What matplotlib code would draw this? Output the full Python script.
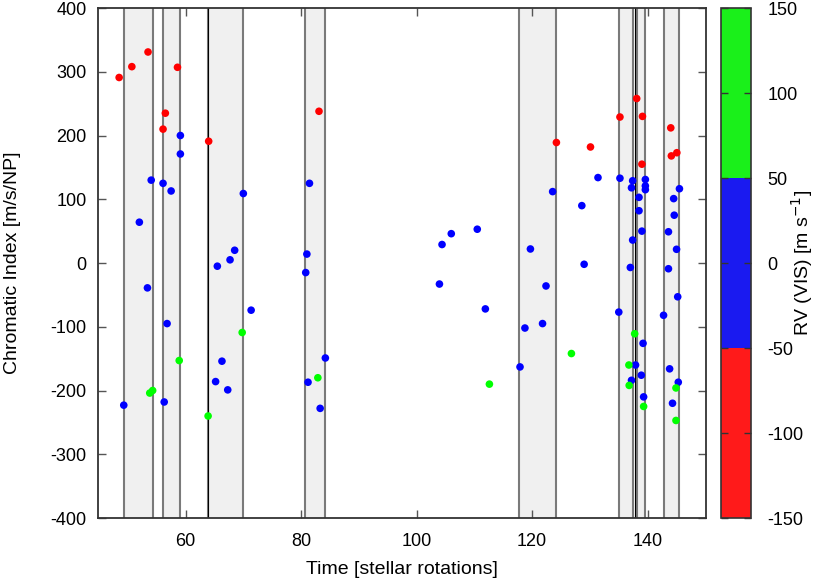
import matplotlib
matplotlib.use("Agg")
import matplotlib.pyplot as plt
from matplotlib.colors import ListedColormap, BoundaryNorm
import numpy as np

plt.rcParams['font.family'] = ['Liberation Sans', 'DejaVu Sans']
plt.rcParams['axes.unicode_minus'] = False

# ---- data ----
time_red = [48.5, 50.7, 53.5, 58.6, 56.5, 56.1, 64.0, 83.1, 124.2, 130.1,
            138.1, 135.2, 139.1, 144.0, 139.0, 144.1, 145.05]
ci_red = [291, 308, 331, 307, 235, 210, 191, 238, 189, 182,
          258, 229, 230, 212, 155, 168, 173]

time_blue = [59.1, 59.1, 54.05, 56.1, 57.5, 70.0, 52.0, 68.5, 67.7, 65.5,
             53.4, 71.35, 56.8, 66.3, 65.2, 67.3, 49.3, 56.3,
             81.45, 81.0, 80.8, 84.2, 81.2, 83.3,
             131.4, 123.55, 128.6, 106.0, 110.5, 104.4, 119.7, 129.0, 103.95,
             122.4, 111.9, 121.8, 118.75, 117.9,
             135.2, 137.4, 137.2, 139.6, 139.6, 139.6, 145.5, 138.5, 144.5,
             138.5, 144.6, 139.0, 143.6, 137.4, 145.0, 137.0, 143.6, 145.2,
             135.0, 142.75, 139.2, 137.9, 138.9, 143.8, 137.2, 145.3, 139.3,
             144.3]
ci_blue = [200, 171, 130, 125, 113, 109, 64, 20, 5, -5,
           -39, -74, -95, -154, -186, -199, -223, -218,
           125, 14, -15, -149, -187, -228,
           134, 112, 90, 46, 53, 29, 22, -2, -33,
           -36, -72, -95, -102, -163,
           133, 129, 118, 131, 121, 115, 116.5, 103, 101,
           82, 75, 50, 49, 36, 21.5, -7, -9, -53,
           -77, -82, -126, -160, -176, -166, -184, -187, -210,
           -220]

time_green = [69.8, 58.9, 53.8, 54.3, 63.9, 82.9, 126.8, 112.6,
              137.75, 136.75, 136.8, 144.9, 139.3, 144.9]
ci_green = [-109, -153, -204, -200, -240, -180, -142, -190,
            -111, -160, -192, -196, -225, -247]

# representative RV (VIS) class of each group [m/s]
rv_red = [-100] * len(time_red)
rv_blue = [0] * len(time_blue)
rv_green = [100] * len(time_green)

# shaded time intervals [stellar rotations]
band_start = [49.33, 56.1, 63.9, 80.76, 117.8, 135.0, 138.1, 142.75]
band_end = [54.4, 59.1, 70.0, 84.2, 124.2, 137.4, 139.6, 145.4]
black_lines = [63.9, 137.75]

xticks = [60, 80, 100, 120, 140]
yticks = [-400, -300, -200, -100, 0, 100, 200, 300, 400]
cbticks = [-150, -100, -50, 0, 50, 100, 150]

# ---- figure ----
fig = plt.figure(figsize=(8.37, 5.84), dpi=100)
ax = fig.add_axes([0.1175, 0.113, 0.726, 0.8733])
cax = fig.add_axes([0.8614, 0.113, 0.0358, 0.8733])

for s, e in zip(band_start, band_end):
    ax.axvspan(s, e, facecolor='#f0f0f0', edgecolor='none', zorder=0)
    ax.axvline(s, color='#7a7a7a', lw=1.5, zorder=1)
    ax.axvline(e, color='#7a7a7a', lw=1.5, zorder=1)
for b in black_lines:
    ax.axvline(b, color='black', lw=0.8, zorder=1.5)

cmap = ListedColormap(['#ff1a1a', '#1a1af0', '#1af01a'])
norm = BoundaryNorm([-150, -50, 50, 150], cmap.N)

t_all = time_red + time_blue + time_green
c_all = ci_red + ci_blue + ci_green
rv_all = rv_red + rv_blue + rv_green
ax.scatter(t_all, c_all, c=rv_all, cmap=ListedColormap(['#ff0000', '#0000ff', '#00ff00']),
           norm=norm, s=30, edgecolors='none', zorder=3)

ax.set_xlim(44.9, 150.1)
ax.set_ylim(-400, 400)
ax.set_xticks(xticks)
ax.set_yticks(yticks)
ax.tick_params(direction='in', length=5.5, width=1, color='#555555',
               top=True, right=True, labelsize=13)
ax.tick_params(axis='x', pad=11)
ax.tick_params(axis='y', pad=8.5)
for sp in ax.spines.values():
    sp.set_color('#333333')
    sp.set_linewidth(1.3)
ax.set_xlabel('Time [stellar rotations]', fontsize=14)
ax.set_ylabel('Chromatic Index [m/s/NP]', fontsize=14)
ax.xaxis.set_label_coords(0.5, -0.085)
ax.yaxis.set_label_coords(-0.127, 0.5)

sm = matplotlib.cm.ScalarMappable(norm=norm, cmap=cmap)
cb = fig.colorbar(sm, cax=cax, ticks=cbticks)
cb.outline.set_edgecolor('#333333')
cb.outline.set_linewidth(1.2)
cax.tick_params(direction='in', length=5, width=1, color='#333333',
                left=True, right=True, labelsize=13, pad=12)
cb.set_label('RV (VIS) [m s$^{-1}$]', fontsize=14)
cax.yaxis.set_label_coords(2.27, 0.5)

fig.savefig('out.png', dpi=100)
